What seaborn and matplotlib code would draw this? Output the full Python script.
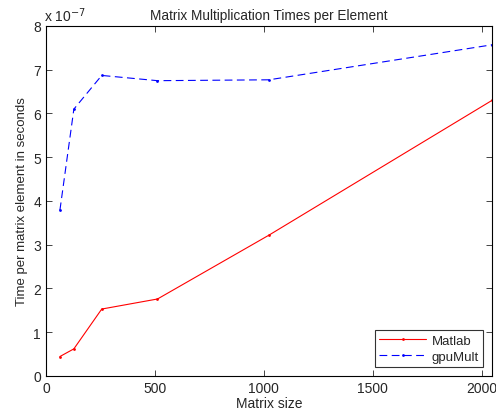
import matplotlib
matplotlib.use('Agg')
import matplotlib.pyplot as plt
import seaborn as sns
import pandas as pd
from matplotlib.ticker import FuncFormatter

# data
sizes = [64, 128, 256, 512, 1024, 2048]
matlab_times = [0.445e-7, 0.62e-7, 1.53e-7, 1.76e-7, 3.22e-7, 6.30e-7]
gpumult_times = [3.79e-7, 6.10e-7, 6.87e-7, 6.75e-7, 6.77e-7, 7.57e-7]

sns.set_style('ticks')
plt.rcParams['font.family'] = ['Liberation Sans', 'DejaVu Sans']

df = pd.DataFrame({'size': sizes, 'Matlab': matlab_times, 'gpuMult': gpumult_times})

fig = plt.figure(figsize=(4.96, 4.14), dpi=100)
ax = fig.add_axes([0.0927, 0.0894, 0.8993, 0.8454])

sns.lineplot(data=df, x='size', y='Matlab', ax=ax, color='red', linewidth=0.8,
             marker='.', markersize=4, markeredgewidth=0, label='Matlab')
sns.lineplot(data=df, x='size', y='gpuMult', ax=ax, color='blue', linewidth=0.8,
             marker='.', markersize=4, markeredgewidth=0, label='gpuMult',
             dashes=False, linestyle=(0, (7, 4)))

ax.set_xlim(0, 2048)
ax.set_ylim(0, 8e-7)
ax.set_xticks([0, 500, 1000, 1500, 2000])
ax.set_yticks([i * 1e-7 for i in range(9)])
ax.yaxis.set_major_formatter(FuncFormatter(lambda v, p: f'{v / 1e-7:.0f}'))
ax.text(-0.005, 1.005, r'x 10$^{-7}$', transform=ax.transAxes, fontsize=10, va='bottom')

ax.tick_params(direction='in', top=True, right=True, labelsize=10, length=4, width=0.6)
for s in ax.spines.values():
    s.set_linewidth(0.8)
    s.set_color('black')

ax.set_xlabel('Matrix size', fontsize=10, labelpad=1)
ax.set_ylabel('Time per matrix element in seconds', fontsize=9.5, labelpad=4)
ax.set_title('Matrix Multiplication Times per Element', fontsize=9.8, pad=5)

leg = ax.legend(loc='lower right', fontsize=9.5, frameon=True, fancybox=False,
                edgecolor='black', borderaxespad=0.7, handlelength=3.6,
                borderpad=0.3, labelspacing=0.3, handletextpad=0.4)
leg.get_frame().set_linewidth(0.8)

fig.savefig('out.png', dpi=100)
